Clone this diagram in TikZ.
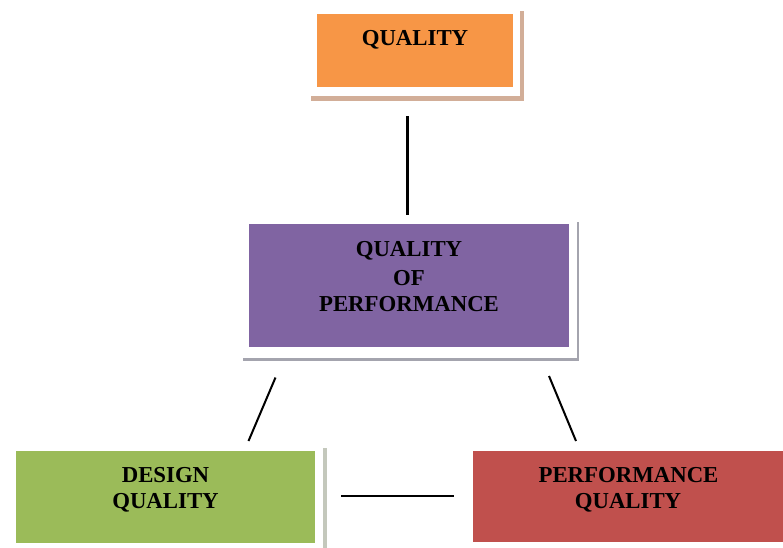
\documentclass[tikz,border=0pt]{standalone}
\usepackage{fontspec}
\setmainfont{Liberation Serif}
\definecolor{qorange}{HTML}{F79646}
\definecolor{qpurple}{HTML}{8064A2}
\definecolor{qgreen}{HTML}{9BBB59}
\definecolor{qred}{HTML}{C0504D}
\definecolor{tanshadow}{HTML}{D2AE98}
\definecolor{grayshadow}{HTML}{A4A4AE}
\definecolor{greenshadow}{HTML}{C4C8BC}
\begin{document}
\begin{tikzpicture}[x=1pt,y=-1pt,
  lbl/.style={font=\fontsize{22.8}{27}\selectfont\bfseries, anchor=base, inner sep=0pt},
  boxfill/.style={anchor=north west, inner sep=0pt, draw=none},
  conn/.style={line width=2.8pt, black},
  thinconn/.style={line width=2pt, black}]
\useasboundingbox (0,0) rectangle (783,547);
\clip (0,0) rectangle (783,547);
% top box frame and shadow
\fill[tanshadow] (311,11) rectangle (524,101);
\fill[white] (311,11) rectangle (520,96);
\node[boxfill, fill=qorange, minimum width=196pt, minimum height=73pt] (qbox) at (317,14) {};
\node[lbl] (qtext) at (415,45) {QUALITY};
% middle box frame and shadow
\fill[grayshadow] (243,222) rectangle (579,361);
\fill[white] (243,222) rectangle (577,358);
\node[boxfill, fill=qpurple, minimum width=320pt, minimum height=123pt] (pbox) at (249,224) {};
\node[lbl] (ptext1) at (409,256.5) {QUALITY};
\node[lbl] (ptext2) at (409,285) {OF};
\node[lbl] (ptext3) at (409,311.5) {PERFORMANCE};
% left bottom box
\fill[greenshadow] (10,448) rectangle (327,560);
\fill[white] (10,448) rectangle (323,560);
\node[boxfill, fill=qgreen, minimum width=299pt, minimum height=92pt] (dbox) at (16,451) {};
\node[lbl] (dtext1) at (165.5,482) {DESIGN};
\node[lbl] (dtext2) at (165.5,508.5) {QUALITY};
% right bottom box
\node[boxfill, fill=qred, minimum width=320pt, minimum height=90.5pt] (rbox) at (472.5,451) {};
\node[lbl] (rtext1) at (628.5,482) {PERFORMANCE};
\node[lbl] (rtext2) at (628,508.5) {QUALITY};
% connectors
\coordinate (v1) at (407.5,116);
\coordinate (v2) at (407.5,215);
\coordinate (l1) at (275.5,377.5);
\coordinate (l2) at (248.5,441);
\coordinate (r1) at (549,376);
\coordinate (r2) at (576,441);
\coordinate (h1) at (341,496);
\coordinate (h2) at (454,496);
\draw[conn] (v1) -- (v2);
\draw[thinconn] (l1) -- (l2);
\draw[thinconn] (r1) -- (r2);
\draw[conn] (h1) -- (h2);
\end{tikzpicture}
\end{document}
